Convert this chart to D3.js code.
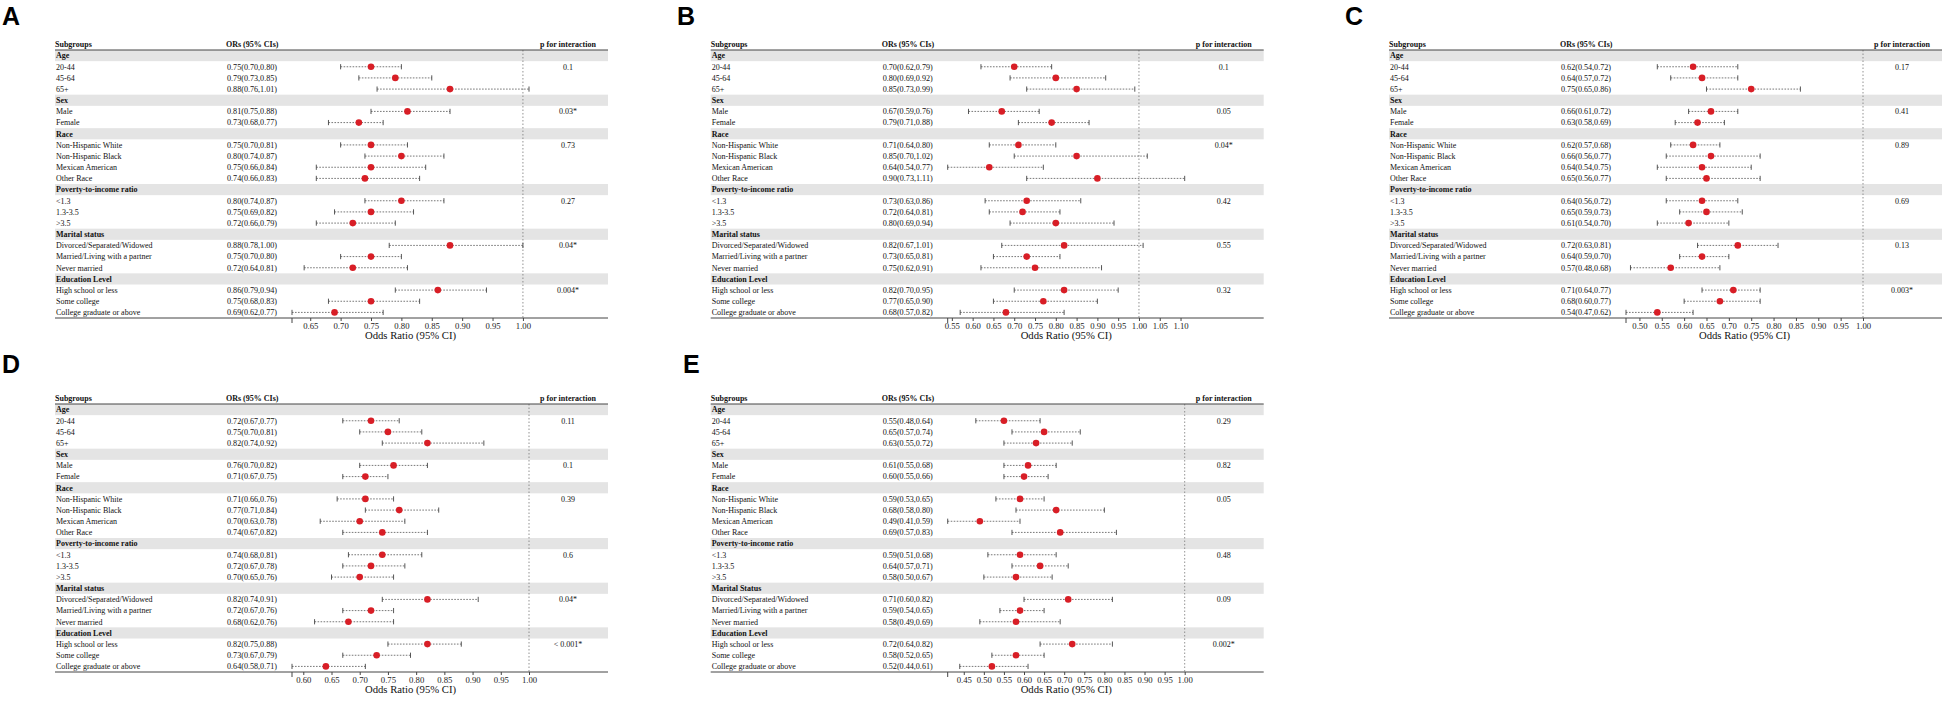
<!DOCTYPE html>
<html>
<head>
<meta charset="utf-8">
<script src="https://cdn.jsdelivr.net/npm/d3@7"></script>
<style>
body { margin: 0; background: #fff; }
text { font-family: "Liberation Serif", "Times New Roman", serif; fill: #111; }
.letter { font-family: "Liberation Sans", Arial, sans-serif; font-weight: bold; font-size: 25px; fill: #000; }
</style>
</head>
<body>
<svg id="canvas" width="1949" height="702"></svg>
<script>

// subgroup names, shared by all five panels.

const groups = ["Age", "Sex", "Race", "Poverty-to-income ratio", "Marital status", "Education Level"]
const groups_E = ["Age", "Sex", "Race", "Poverty-to-income ratio", "Marital Status", "Education Level"]
const items = [
    ["20-44", "45-64", "65+"],
    ["Male", "Female"],
    ["Non-Hispanic White", "Non-Hispanic Black", "Mexican American", "Other Race"],
    ["<1.3", "1.3-3.5", ">3.5"],
    ["Divorced/Separated/Widowed", "Married/Living with a partner", "Never married"],
    ["High school or less", "Some college", "College graduate or above"]
]

// odds ratio, lower, upper for each row.

const or_A = [[0.75,0.70,0.80],[0.79,0.73,0.85],[0.88,0.76,1.01],[0.81,0.75,0.88],[0.73,0.68,0.77],
    [0.75,0.70,0.81],[0.80,0.74,0.87],[0.75,0.66,0.84],[0.74,0.66,0.83],[0.80,0.74,0.87],[0.75,0.69,0.82],
    [0.72,0.66,0.79],[0.88,0.78,1.00],[0.75,0.70,0.80],[0.72,0.64,0.81],[0.86,0.79,0.94],[0.75,0.68,0.83],[0.69,0.62,0.77]]
const or_B = [[0.70,0.62,0.79],[0.80,0.69,0.92],[0.85,0.73,0.99],[0.67,0.59,0.76],[0.79,0.71,0.88],
    [0.71,0.64,0.80],[0.85,0.70,1.02],[0.64,0.54,0.77],[0.90,0.73,1.11],[0.73,0.63,0.86],[0.72,0.64,0.81],
    [0.80,0.69,0.94],[0.82,0.67,1.01],[0.73,0.65,0.81],[0.75,0.62,0.91],[0.82,0.70,0.95],[0.77,0.65,0.90],[0.68,0.57,0.82]]
const or_C = [[0.62,0.54,0.72],[0.64,0.57,0.72],[0.75,0.65,0.86],[0.66,0.61,0.72],[0.63,0.58,0.69],
    [0.62,0.57,0.68],[0.66,0.56,0.77],[0.64,0.54,0.75],[0.65,0.56,0.77],[0.64,0.56,0.72],[0.65,0.59,0.73],
    [0.61,0.54,0.70],[0.72,0.63,0.81],[0.64,0.59,0.70],[0.57,0.48,0.68],[0.71,0.64,0.77],[0.68,0.60,0.77],[0.54,0.47,0.62]]
const or_D = [[0.72,0.67,0.77],[0.75,0.70,0.81],[0.82,0.74,0.92],[0.76,0.70,0.82],[0.71,0.67,0.75],
    [0.71,0.66,0.76],[0.77,0.71,0.84],[0.70,0.63,0.78],[0.74,0.67,0.82],[0.74,0.68,0.81],[0.72,0.67,0.78],
    [0.70,0.65,0.76],[0.82,0.74,0.91],[0.72,0.67,0.76],[0.68,0.62,0.76],[0.82,0.75,0.88],[0.73,0.67,0.79],[0.64,0.58,0.71]]
const or_E = [[0.55,0.48,0.64],[0.65,0.57,0.74],[0.63,0.55,0.72],[0.61,0.55,0.68],[0.60,0.55,0.66],
    [0.59,0.53,0.65],[0.68,0.58,0.80],[0.49,0.41,0.59],[0.69,0.57,0.83],[0.59,0.51,0.68],[0.64,0.57,0.71],
    [0.58,0.50,0.67],[0.71,0.60,0.82],[0.59,0.54,0.65],[0.58,0.49,0.69],[0.72,0.64,0.82],[0.58,0.52,0.65],[0.52,0.44,0.61]]

// p for interaction, one per subgroup.

const p_A = ["0.1", "0.03*", "0.73", "0.27", "0.04*", "0.004*"]
const p_B = ["0.1", "0.05", "0.04*", "0.42", "0.55", "0.32"]
const p_C = ["0.17", "0.41", "0.89", "0.69", "0.13", "0.003*"]
const p_D = ["0.11", "0.1", "0.39", "0.6", "0.04*", "< 0.001*"]
const p_E = ["0.29", "0.82", "0.05", "0.48", "0.09", "0.002*"]

// axis tick labels.

const ticks_A = [0.65, 0.70, 0.75, 0.80, 0.85, 0.90, 0.95, 1.00]
const ticks_B = [0.55, 0.60, 0.65, 0.70, 0.75, 0.80, 0.85, 0.90, 0.95, 1.00, 1.05, 1.10]
const ticks_C = [0.50, 0.55, 0.60, 0.65, 0.70, 0.75, 0.80, 0.85, 0.90, 0.95, 1.00]
const ticks_D = [0.60, 0.65, 0.70, 0.75, 0.80, 0.85, 0.90, 0.95, 1.00]
const ticks_E = [0.45, 0.50, 0.55, 0.60, 0.65, 0.70, 0.75, 0.80, 0.85, 0.90, 0.95, 1.00]

// layout of the five tables.

const row_h = 268 / 24
const table_w = 553

const panels = [
    { letter: "A", lx: 2,   ly: 25,  x0: 55,    top: 50,  or: or_A, p: p_A, ticks: ticks_A, groups: groups },
    { letter: "B", lx: 677, ly: 25,  x0: 710.7, top: 50,  or: or_B, p: p_B, ticks: ticks_B, groups: groups },
    { letter: "C", lx: 1345, ly: 25, x0: 1389,  top: 50,  or: or_C, p: p_C, ticks: ticks_C, groups: groups },
    { letter: "D", lx: 2,   ly: 373, x0: 55,    top: 404, or: or_D, p: p_D, ticks: ticks_D, groups: groups },
    { letter: "E", lx: 683, ly: 373, x0: 710.7, top: 404, or: or_E, p: p_E, ticks: ticks_E, groups: groups_E }
]

const fmt = d3.format(".2f")

function draw_panel(cfg) {

    let svg = d3.select("#canvas").append("g")

    // flatten subgroups into table rows.

    let rows = []
    let k = 0
    cfg.groups.forEach((name, gi) => {
        rows.push({ head: true, label: name })
        items[gi].forEach((it, ii) => {
            let v = cfg.or[k++]
            rows.push({ head: false, label: it, est: v[0], lo: v[1], hi: v[2], p: ii == 0 ? cfg.p[gi] : "" })
        })
    })

    let y = d3.scaleLinear().domain([0, rows.length]).range([cfg.top, cfg.top + rows.length * row_h])
    let bottom = y(rows.length)
    let x_min = d3.min(cfg.or, d => d[1])
    let x_max = Math.max(1, d3.max(cfg.or, d => d[2]))
    let x = d3.scaleLinear().domain([x_min, x_max]).range([cfg.x0 + 237, cfg.x0 + 474])

    svg.append("text").attr("class", "letter").attr("x", cfg.lx).attr("y", cfg.ly).text(cfg.letter)

    // grey bands for subgroup headers.

    svg.selectAll(".band")
        .data(rows.map((r, i) => ({ r, i })).filter(d => d.r.head))
        .join("rect")
        .attr("x", cfg.x0)
        .attr("y", d => y(d.i))
        .attr("width", table_w)
        .attr("height", row_h)
        .style("fill", "#e4e4e4")

    // column headers.

    svg.append("text").attr("x", cfg.x0).attr("y", cfg.top - 3)
        .style("font-size", "8px").style("font-weight", "bold").text("Subgroups")
    svg.append("text").attr("x", cfg.x0 + 171).attr("y", cfg.top - 3)
        .style("font-size", "8px").style("font-weight", "bold").text("ORs (95% CIs)")
    svg.append("text").attr("x", cfg.x0 + 513).attr("y", cfg.top - 3).attr("text-anchor", "middle")
        .style("font-size", "8px").style("font-weight", "bold").text("p for interaction")

    // reference line at 1.

    svg.append("line")
        .attr("x1", x(1)).attr("x2", x(1))
        .attr("y1", cfg.top).attr("y2", bottom)
        .style("stroke", "#777").style("stroke-width", 0.8).style("stroke-dasharray", "1.5,2")

    // row labels.

    svg.selectAll(".lab")
        .data(rows)
        .join("text")
        .attr("x", cfg.x0 + 1)
        .attr("y", (d, i) => y(i + 0.5) + 2.8)
        .style("font-size", "8px")
        .style("font-weight", d => d.head ? "bold" : "normal")
        .text(d => d.label)

    let body = rows.map((r, i) => ({ r, i })).filter(d => !d.r.head)

    svg.selectAll(".ortext")
        .data(body)
        .join("text")
        .attr("x", cfg.x0 + 172)
        .attr("y", d => y(d.i + 0.5) + 2.8)
        .attr("textLength", 50)
        .attr("lengthAdjust", "spacingAndGlyphs")
        .style("font-size", "8px")
        .text(d => fmt(d.r.est) + "(" + fmt(d.r.lo) + "," + fmt(d.r.hi) + ")")

    svg.selectAll(".ptext")
        .data(body.filter(d => d.r.p))
        .join("text")
        .attr("x", cfg.x0 + 513)
        .attr("y", d => y(d.i + 0.5) + 2.8)
        .attr("text-anchor", "middle")
        .style("font-size", "8px")
        .text(d => d.r.p)

    // CI whiskers, caps and points.

    svg.selectAll(".ci")
        .data(body)
        .join("line")
        .attr("x1", d => x(d.r.lo)).attr("x2", d => x(d.r.hi))
        .attr("y1", d => y(d.i + 0.5)).attr("y2", d => y(d.i + 0.5))
        .style("stroke", "#555").style("stroke-width", 0.8).style("stroke-dasharray", "1.6,1.4")

    svg.selectAll(".cap_lo")
        .data(body.flatMap(d => [[d.r.lo, d.i], [d.r.hi, d.i]]))
        .join("line")
        .attr("x1", d => x(d[0])).attr("x2", d => x(d[0]))
        .attr("y1", d => y(d[1] + 0.5) - 2.6).attr("y2", d => y(d[1] + 0.5) + 2.6)
        .style("stroke", "#444").style("stroke-width", 0.9)

    svg.selectAll(".pt")
        .data(body)
        .join("circle")
        .attr("cx", d => x(d.r.est))
        .attr("cy", d => y(d.i + 0.5))
        .attr("r", 3.3)
        .style("fill", "#d81e26")

    // header and bottom rules.

    svg.append("line").attr("x1", cfg.x0).attr("x2", cfg.x0 + table_w)
        .attr("y1", cfg.top).attr("y2", cfg.top).style("stroke", "#444").style("stroke-width", 1)
    svg.append("line").attr("x1", cfg.x0).attr("x2", cfg.x0 + table_w)
        .attr("y1", bottom).attr("y2", bottom).style("stroke", "#444").style("stroke-width", 1)

    // x axis under the table.

    let ax = svg.append("g")
        .attr("transform", `translate(0,${bottom})`)
        .call(d3.axisBottom(x).tickValues(cfg.ticks).tickFormat(fmt).tickSize(3).tickPadding(2))
    ax.select(".domain").remove()
    ax.selectAll(".tick line").style("stroke", "#444")
    ax.selectAll(".tick text")
        .style("font-family", "'Liberation Serif', serif").style("font-size", "8.7px").style("fill", "#222")

    svg.append("line").attr("x1", x(x_min)).attr("x2", x(x_min))
        .attr("y1", bottom).attr("y2", bottom + 5).style("stroke", "#444").style("stroke-width", 1)

    svg.append("text")
        .attr("x", (x.range()[0] + x.range()[1]) / 2)
        .attr("y", bottom + 21)
        .attr("text-anchor", "middle")
        .style("font-size", "10.7px")
        .text("Odds Ratio (95% CI)")
}

panels.forEach(draw_panel)

</script>
</body>
</html>
